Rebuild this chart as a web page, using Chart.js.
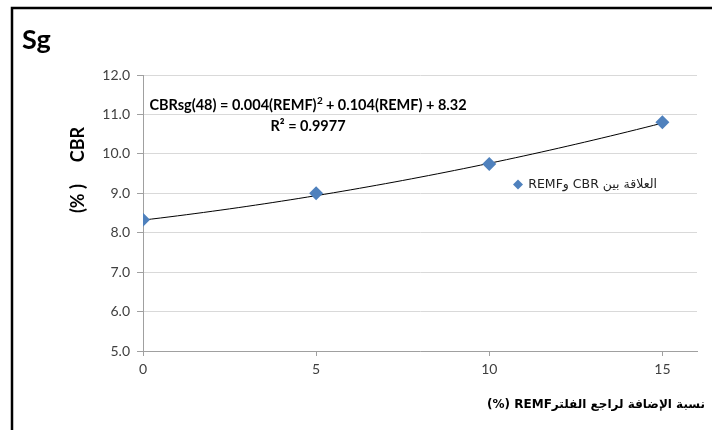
<!DOCTYPE html>
<html lang="ar">

<head>
	<meta charset="UTF-8">
	<title>Sg</title>
	<style>
		body { margin: 0; background: #fff; }
		#wrap { width: 712px; height: 430px; }
	</style>
</head>

<body>
	<div id="wrap"><canvas id="cbrChart" width="712" height="430"></canvas></div>

	<script src="https://cdn.jsdelivr.net/npm/chart.js"></script>
	<script>
		// REMF addition (%) and measured CBR (%)
		const remfPct = [0, 5, 10, 15];
		const cbrPct = [8.33, 9.0, 9.74, 10.8];
		const xTickValues = [0, 5, 10, 15];
		// second order fit: c0 + c1*x + c2*x^2
		const trendCoefs = [8.32, 0.104, 0.004];
		const eqLeft = 'CBRsg(48) = 0.004(REMF)';
		const eqRight = ' + 0.104(REMF) + 8.32';
		const rSquared = 'R² = 0.9977';
		const seriesName = 'العلاقة بين CBR وREMF';
		const xTitle = 'نسبة الإضافة لراجع الفلترREMF (%)';

		const blue = '#4F81BD';
		const axisGray = '#A0A0A0';
		const latin = 'Lato, "DejaVu Sans", sans-serif';
		const arabic = '"DejaVu Sans", Lato, sans-serif';

		const points = remfPct.map((x, i) => ({ x: x, y: cbrPct[i] }));

		const overlay = {
			id: 'overlay',
			beforeDatasetsDraw(chart) {
				// polynomial trendline over the range of the data
				const ctx = chart.ctx;
				const xs = chart.scales.x, ys = chart.scales.y;
				const first = remfPct[0], last = remfPct[remfPct.length - 1];
				ctx.save();
				ctx.strokeStyle = '#000';
				ctx.lineWidth = 1;
				ctx.beginPath();
				for (let k = 0; k <= 60; k++) {
					const v = first + (last - first) * k / 60;
					const fit = trendCoefs[0] + trendCoefs[1] * v + trendCoefs[2] * v * v;
					const px = xs.getPixelForValue(v), py = ys.getPixelForValue(fit);
					if (k === 0) ctx.moveTo(px, py); else ctx.lineTo(px, py);
				}
				ctx.stroke();
				ctx.restore();
			},
			afterDraw(chart) {
				const ctx = chart.ctx;
				ctx.save();

				// outer frame
				ctx.strokeStyle = '#000';
				ctx.lineWidth = 2.5;
				ctx.strokeRect(12, 8, 760, 480);

				// title
				ctx.fillStyle = '#000';
				ctx.font = 'bold 27px ' + latin;
				ctx.textAlign = 'left';
				ctx.textBaseline = 'alphabetic';
				ctx.fillText('Sg', 22, 49);

				// fit equation
				ctx.font = 'bold 14.5px ' + latin;
				const wL = ctx.measureText(eqLeft).width;
				const wR = ctx.measureText(eqRight).width;
				ctx.font = 'bold 10px ' + latin;
				const wS = ctx.measureText('2').width;
				const cx = 308;
				let x0 = cx - (wL + wS + wR) / 2;
				ctx.font = 'bold 14.5px ' + latin;
				ctx.fillText(eqLeft, x0, 110);
				ctx.font = 'bold 10px ' + latin;
				ctx.fillText('2', x0 + wL + 0.5, 104);
				ctx.font = 'bold 14.5px ' + latin;
				ctx.fillText(eqRight, x0 + wL + wS, 110);
				ctx.textAlign = 'center';
				ctx.fillText(rSquared, cx, 131);

				// y axis title
				ctx.save();
				ctx.translate(78, 170);
				ctx.rotate(-Math.PI / 2);
				ctx.font = 'bold 18px ' + latin;
				ctx.textAlign = 'center';
				ctx.textBaseline = 'middle';
				ctx.fillText('(% )     CBR', 0, 0);
				ctx.restore();

				// x axis title, right to left
				ctx.font = 'bold 12px ' + arabic;
				ctx.direction = 'rtl';
				ctx.textAlign = 'right';
				ctx.textBaseline = 'middle';
				ctx.fillText(xTitle, 705, 405);

				// legend
				ctx.font = '12.5px ' + arabic;
				ctx.fillStyle = '#222';
				ctx.fillText(seriesName, 657, 185);
				ctx.direction = 'ltr';
				ctx.fillStyle = blue;
				ctx.beginPath();
				ctx.moveTo(518, 179.5);
				ctx.lineTo(523, 184.5);
				ctx.lineTo(518, 189.5);
				ctx.lineTo(513, 184.5);
				ctx.closePath();
				ctx.fill();

				ctx.restore();
			}
		};

		const config = {
			type: 'scatter',
			data: {
				datasets: [{
					label: seriesName,
					data: points,
					pointStyle: 'rectRot',
					pointRadius: 7,
					backgroundColor: blue,
					borderColor: blue,
					borderWidth: 0
				}]
			},
			options: {
				responsive: false,
				animation: false,
				layout: { padding: { left: 0, top: 75, right: 15, bottom: 0 } },
				plugins: {
					legend: { display: false },
					title: { display: false },
					tooltip: { enabled: false }
				},
				scales: {
					x: {
						type: 'linear',
						min: 0,
						max: 16,
						afterBuildTicks: (scale) => {
							scale.ticks = xTickValues.map(v => ({ value: v }));
						},
						afterFit: (scale) => { scale.height = 79; },
						grid: {
							drawOnChartArea: false,
							drawTicks: true,
							tickLength: 5,
							tickColor: axisGray
						},
						border: { display: true, color: axisGray, width: 1 },
						ticks: {
							padding: 5,
							color: '#404040',
							font: { family: latin, size: 14 },
							maxRotation: 0
						}
					},
					y: {
						min: 5,
						max: 12,
						afterFit: (scale) => { scale.width = 143; },
						grid: {
							color: '#D9D9D9',
							lineWidth: 1,
							drawTicks: true,
							tickLength: 6,
							tickColor: axisGray
						},
						border: { display: true, color: axisGray, width: 1 },
						ticks: {
							stepSize: 1,
							padding: 7,
							color: '#404040',
							font: { family: latin, size: 14 },
							callback: (v) => Number(v).toFixed(1)
						}
					}
				}
			},
			plugins: [overlay]
		};

		const cbrChart = new Chart(document.getElementById('cbrChart'), config);
	</script>
</body>

</html>
